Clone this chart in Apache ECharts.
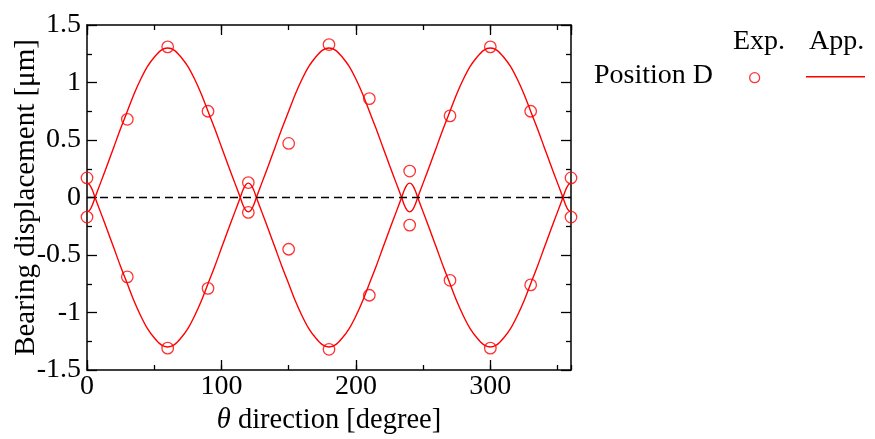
<!DOCTYPE html>
<html>
<head>
<meta charset="utf-8">
<script src="https://cdn.jsdelivr.net/npm/echarts@6/dist/echarts.min.js"></script>
<style>
  html, body { margin: 0; padding: 0; background: #fff; }
  #chart { width: 875px; height: 439px; }
</style>
</head>
<body>
<div id="chart"></div>
<script>
// measured points (Position D)
var expTheta = [0, 30, 60, 90, 120, 150, 180, 210, 240, 270, 300, 330, 360];
var expUpper = [0.17, 0.68, 1.31, 0.75, 0.13, 0.47, 1.33, 0.86, 0.23, 0.71, 1.31, 0.75, 0.17];
var expLower = [-0.17, -0.69, -1.31, -0.79, -0.13, -0.45, -1.32, -0.85, -0.24, -0.72, -1.31, -0.76, -0.17];

// approximation curves
var fitTheta = [0, 2, 4, 6, 10, 15, 20, 25, 30, 35, 40, 45, 50, 55, 60, 65, 70, 75, 80, 85, 90, 95, 100, 105, 110,
  114, 116, 118, 120, 122, 124, 126, 130, 135, 140, 145, 150, 155, 160, 165, 170, 175, 180, 185, 190, 195, 200,
  205, 210, 215, 220, 225, 230, 234, 236, 238, 240, 242, 244, 246, 250, 255, 260, 265, 270, 275, 280, 285, 290,
  295, 300, 305, 310, 315, 320, 325, 330, 335, 340, 345, 350, 354, 356, 358, 360];
var fitUpper = [-0.125, -0.11, -0.065, 0,
  0.125, 0.28, 0.44, 0.60, 0.75, 0.90, 1.03, 1.14, 1.22, 1.28, 1.30, 1.28, 1.22, 1.14, 1.03, 0.90, 0.75, 0.60, 0.44, 0.28, 0.125,
  0, -0.065, -0.11, -0.125, -0.11, -0.065, 0,
  0.125, 0.28, 0.44, 0.60, 0.75, 0.90, 1.03, 1.14, 1.22, 1.28, 1.30, 1.28, 1.22, 1.14, 1.03, 0.90, 0.75, 0.60, 0.44, 0.28, 0.125,
  0, -0.065, -0.11, -0.125, -0.11, -0.065, 0,
  0.125, 0.28, 0.44, 0.60, 0.75, 0.90, 1.03, 1.14, 1.22, 1.28, 1.30, 1.28, 1.22, 1.14, 1.03, 0.90, 0.75, 0.60, 0.44, 0.28, 0.125,
  0, -0.065, -0.11, -0.125];
var fitLower = [0.125, 0.11, 0.065, 0,
  -0.125, -0.28, -0.44, -0.60, -0.75, -0.90, -1.03, -1.14, -1.22, -1.28, -1.30, -1.28, -1.22, -1.14, -1.03, -0.90, -0.75, -0.60, -0.44, -0.28, -0.125,
  0, 0.065, 0.11, 0.125, 0.11, 0.065, 0,
  -0.125, -0.28, -0.44, -0.60, -0.75, -0.90, -1.03, -1.14, -1.22, -1.28, -1.30, -1.28, -1.22, -1.14, -1.03, -0.90, -0.75, -0.60, -0.44, -0.28, -0.125,
  0, 0.065, 0.11, 0.125, 0.11, 0.065, 0,
  -0.125, -0.28, -0.44, -0.60, -0.75, -0.90, -1.03, -1.14, -1.22, -1.28, -1.30, -1.28, -1.22, -1.14, -1.03, -0.90, -0.75, -0.60, -0.44, -0.28, -0.125,
  0, 0.065, 0.11, 0.125];

var FONT = 'Liberation Serif';
var RED = '#ff0000';

function pairs(xs, ys) {
  return xs.map(function (x, i) { return [x, ys[i]]; });
}

var chart = echarts.init(document.getElementById('chart'));

var tickStyle = { color: '#000', width: 1.3 };
var xBase = {
  type: 'value', min: 0, max: 360,
  axisLine: { onZero: false, lineStyle: { color: '#000', width: 1.5 } },
  splitLine: { show: false }
};
function xMajor(pos, labels) {
  return Object.assign({}, xBase, {
    position: pos, interval: 100,
    axisTick: { inside: true, length: 10, lineStyle: tickStyle },
    axisLabel: labels ? { show: true, showMaxLabel: false, margin: 3, fontFamily: FONT, fontSize: 28, color: '#000' } : { show: false }
  });
}
function xMinor(pos) {
  return Object.assign({}, xBase, {
    position: pos, interval: 50,
    axisLine: { show: false, onZero: false },
    axisTick: { inside: true, length: 5, lineStyle: tickStyle },
    axisLabel: { show: false }
  });
}
function yAxis(pos, labels) {
  return {
    type: 'value', position: pos, min: -1.5, max: 1.5, interval: 0.5,
    axisLine: { show: true, onZero: false, lineStyle: { color: '#000', width: 1.5 } },
    axisTick: { inside: true, length: 10, lineStyle: tickStyle },
    minorTick: { show: true, splitNumber: 2, length: 5, lineStyle: tickStyle },
    splitLine: { show: false },
    axisLabel: labels ? { show: true, margin: 6, fontFamily: FONT, fontSize: 28, color: '#000' } : { show: false }
  };
}

var xMain = xMajor('bottom', true);
xMain.name = '{th|θ} direction [degree]';
xMain.nameLocation = 'middle';
xMain.nameGap = 34;
xMain.nameTextStyle = {
  fontFamily: FONT, fontSize: 28.5, color: '#000',
  rich: { th: { fontFamily: FONT, fontSize: 28.5, fontStyle: 'italic', color: '#000' } }
};

var yMain = yAxis('left', true);
yMain.name = 'Bearing displacement [μm]';
yMain.nameLocation = 'middle';
yMain.nameGap = 46;
yMain.nameMoveOverlap = false;
yMain.nameTextStyle = { fontFamily: FONT, fontSize: 29, color: '#000' };

var option = {
  backgroundColor: '#fff',
  animation: false,
  grid: { left: 87, right: 304, top: 25, bottom: 69, containLabel: false, outerBoundsMode: 'none' },
  xAxis: [xMain, xMinor('bottom'), xMajor('top', false), xMinor('top')],
  yAxis: [yMain, yAxis('right', false)],
  legend: [
    {
      data: ['Exp.'], left: 749, top: 72, padding: 0, icon: 'circle',
      itemWidth: 10, itemHeight: 10,
      itemStyle: { color: '#fff', borderColor: RED, borderWidth: 1.3 },
      formatter: function () { return ''; }
    },
    {
      data: ['App.'], left: 806, top: 76, padding: 0, icon: 'rect',
      itemWidth: 59, itemHeight: 1.5,
      itemStyle: { color: RED },
      formatter: function () { return ''; }
    }
  ],
  graphic: [
    { type: 'text', left: 733, top: 28, style: { text: 'Exp.', fontFamily: FONT, fontSize: 28, fill: '#000' } },
    { type: 'text', left: 809, top: 28, style: { text: 'App.', fontFamily: FONT, fontSize: 28, fill: '#000' } },
    { type: 'text', left: 594, top: 62, style: { text: 'Position D', fontFamily: FONT, fontSize: 28, fill: '#000' } }
  ],
  series: [
    {
      name: 'App.', type: 'line', xAxisIndex: 0, yAxisIndex: 0,
      data: pairs(fitTheta, fitUpper), smooth: 0.3, showSymbol: false,
      lineStyle: { color: RED, width: 1.4 }, itemStyle: { color: RED },
      markLine: {
        silent: true, symbol: 'none', label: { show: false },
        lineStyle: { color: '#000', type: [8, 5], width: 1.3 },
        data: [{ yAxis: 0 }]
      }
    },
    {
      name: 'App.', type: 'line', xAxisIndex: 0, yAxisIndex: 0,
      data: pairs(fitTheta, fitLower), smooth: 0.3, showSymbol: false,
      lineStyle: { color: RED, width: 1.4 }, itemStyle: { color: RED }
    },
    {
      name: 'Exp.', type: 'scatter', xAxisIndex: 0, yAxisIndex: 0, clip: false,
      data: pairs(expTheta, expUpper).concat(pairs(expTheta, expLower)),
      symbol: 'circle', symbolSize: 11.5,
      itemStyle: { color: 'rgba(255,255,255,0)', borderColor: RED, borderWidth: 1.3 }
    }
  ]
};

chart.setOption(option);
</script>
</body>
</html>
